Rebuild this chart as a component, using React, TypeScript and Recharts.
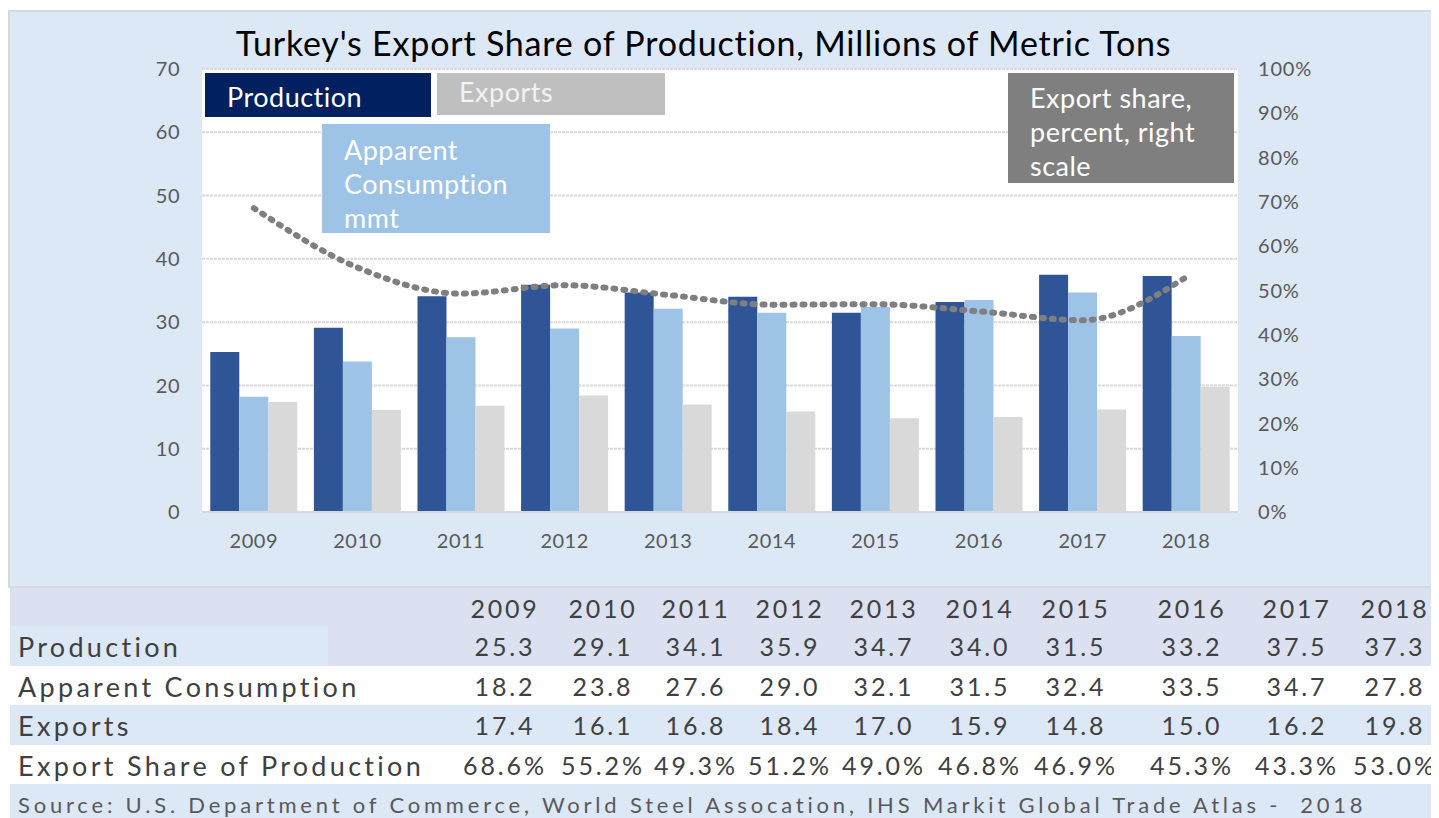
import React from "react";
import {
  ComposedChart,
  Bar,
  Line,
  XAxis,
  YAxis,
  CartesianGrid,
} from "recharts";

const years = ["2009", "2010", "2011", "2012", "2013", "2014", "2015", "2016", "2017", "2018"];
const production = [25.3, 29.1, 34.1, 35.9, 34.7, 34.0, 31.5, 33.2, 37.5, 37.3];
const consumption = [18.2, 23.8, 27.6, 29.0, 32.1, 31.5, 32.4, 33.5, 34.7, 27.8];
const exportsMmt = [17.4, 16.1, 16.8, 18.4, 17.0, 15.9, 14.8, 15.0, 16.2, 19.8];
const exportShare = [68.6, 55.2, 49.3, 51.2, 49.0, 46.8, 46.9, 45.3, 43.3, 53.0];

const leftTicks = [0, 10, 20, 30, 40, 50, 60, 70];
const rightTicks = [0, 0.1, 0.2, 0.3, 0.4, 0.5, 0.6, 0.7, 0.8, 0.9, 1];

const sourceNote =
  "Source: U.S. Department of Commerce, World Steel Assocation, IHS Markit Global Trade Atlas -  2018";

const FONT = "Lato, 'Open Sans', sans-serif";
const PANEL_BG = "#dce8f5";
const HEADER_BG = "#dbe1f1";

// table column centers (page x minus the 8px body margin)
const colCenters = [497, 595, 688, 782, 876, 972, 1068, 1184, 1289, 1387];

const chartData = years.map((y, i) => ({
  year: y,
  production: production[i],
  consumption: consumption[i],
  exports: exportsMmt[i],
  share: exportShare[i] / 100,
}));

const legendBox = (
  left: number,
  top: number,
  width: number,
  height: number,
  bg: string,
  lines: string[],
  padTop: number,
  color = "#fff"
) => (
  <div
    style={{
      position: "absolute",
      left,
      top,
      width,
      height,
      background: bg,
      color,
      fontFamily: FONT,
      fontSize: 27,
      letterSpacing: 0.5,
      lineHeight: "34px",
      paddingLeft: 22,
      paddingTop: padTop,
      boxSizing: "border-box",
      whiteSpace: "nowrap",
    }}
  >
    {lines.map((l) => (
      <div key={l}>{l}</div>
    ))}
  </div>
);

type Row = { label: string; values: string[]; labelBg: string; cellBg: string };

const rows: Row[] = [
  { label: "Production", values: production.map((v) => v.toFixed(1)), labelBg: PANEL_BG, cellBg: HEADER_BG },
  { label: "Apparent Consumption", values: consumption.map((v) => v.toFixed(1)), labelBg: "#fff", cellBg: "#fff" },
  { label: "Exports", values: exportsMmt.map((v) => v.toFixed(1)), labelBg: PANEL_BG, cellBg: PANEL_BG },
  { label: "Export Share of Production", values: exportShare.map((v) => v.toFixed(1) + "%"), labelBg: "#fff", cellBg: "#fff" },
];

export default function App() {
  return (
    <div style={{ position: "relative", width: 1431, height: 810, fontFamily: FONT }}>
      <div
        style={{
          position: "absolute",
          left: 0,
          top: 2,
          width: 1431,
          height: 578,
          background: PANEL_BG,
          border: "2px solid #d3d9df",
          borderRight: "none",
          boxSizing: "border-box",
        }}
      />
      <div style={{ position: "absolute", left: 0, top: 2 }}>
        <ComposedChart
          width={1431}
          height={576}
          data={chartData}
          margin={{ top: 59, right: 121, bottom: 34, left: 144 }}
          barCategoryGap="8%"
          barGap={0}
        >
          <CartesianGrid
            vertical={false}
            fill="#ffffff"
            stroke="#d9d9d9"
            strokeWidth={2}
            strokeDasharray="3 1"
            yAxisId="left"
          />
          <XAxis
            dataKey="year"
            axisLine={{ stroke: "#d9d9d9", strokeWidth: 2 }}
            tickLine={false}
            tickMargin={16}
            height={40}
            tick={{ fill: "#595959", fontSize: 20, letterSpacing: 0.5, fontFamily: FONT }}
          />
          <YAxis
            yAxisId="left"
            domain={[0, 70]}
            ticks={leftTicks}
            width={50}
            axisLine={false}
            tickLine={false}
            tickMargin={16}
            tick={{ fill: "#595959", fontSize: 20, letterSpacing: 0.5, fontFamily: FONT }}
          />
          <YAxis
            yAxisId="right"
            orientation="right"
            domain={[0, 1]}
            ticks={rightTicks}
            width={80}
            axisLine={false}
            tickLine={false}
            tickMargin={14}
            tickFormatter={(v: number) => `${Math.round(v * 100)}%`}
            tick={{ fill: "#595959", fontSize: 20, letterSpacing: 0.8, fontFamily: FONT }}
          />
          <Bar yAxisId="left" dataKey="production" fill="#2f5597" isAnimationActive={false} />
          <Bar yAxisId="left" dataKey="consumption" fill="#9dc3e6" isAnimationActive={false} />
          <Bar yAxisId="left" dataKey="exports" fill="#d9d9d9" isAnimationActive={false} />
          <Line
            yAxisId="right"
            dataKey="share"
            type="monotone"
            stroke="#7f7f7f"
            strokeWidth={6}
            strokeDasharray="2 8"
            strokeLinecap="round"
            dot={false}
            isAnimationActive={false}
          />
        </ComposedChart>
      </div>

      <div
        style={{
          position: "absolute",
          left: 0,
          width: 1431,
          top: 14,
          textAlign: "center",
          fontSize: 34,
          letterSpacing: 0.8,
          color: "#000",
          whiteSpace: "nowrap",
        }}
      >
        <span style={{ position: "relative", left: -20 }}>
          Turkey's Export Share of Production, Millions of Metric Tons
        </span>
      </div>

      {legendBox(197, 65, 226, 44, "#002060", ["Production"], 7)}
      {legendBox(429, 65, 228, 42, "#bfbfbf", ["Exports"], 2, "#f2f2f2")}
      {legendBox(314, 116, 228, 109, "#9dc3e6", ["Apparent", "Consumption", "mmt"], 9)}
      {legendBox(1000, 65, 226, 110, "#7f7f7f", ["Export share,", "percent, right", "scale"], 8)}

      {/* data table */}
      <div style={{ position: "absolute", left: 2, top: 580, width: 1429, height: 38, background: HEADER_BG }}>
        {years.map((y, i) => (
          <div
            key={y}
            style={{
              position: "absolute",
              left: colCenters[i] - 2 - 50,
              width: 100,
              textAlign: "center",
              top: 5,
              fontSize: 25,
              letterSpacing: 2.7,
              color: "#404040",
            }}
          >
            {y}
          </div>
        ))}
      </div>
      {rows.map((r, ri) => (
        <div
          key={r.label}
          style={{ position: "absolute", left: 2, top: 618 + ri * 39.5, width: 1429, height: 40, background: r.cellBg }}
        >
          <div style={{ position: "absolute", left: 0, top: 0, width: 318, height: 40, background: r.labelBg }} />
          <div
            style={{
              position: "absolute",
              left: 8,
              top: 4,
              fontSize: 27,
              letterSpacing: 3.3,
              color: "#404040",
              whiteSpace: "nowrap",
            }}
          >
            {r.label}
          </div>
          {r.values.map((v, i) => (
            <div
              key={i}
              style={{
                position: "absolute",
                left: colCenters[i] - 2 - 55,
                width: 110,
                textAlign: "center",
                top: 5,
                fontSize: 25,
                letterSpacing: 2.9,
                color: "#404040",
                whiteSpace: "nowrap",
              }}
            >
              {v}
            </div>
          ))}
        </div>
      ))}
      <div
        style={{
          position: "absolute",
          left: 2,
          top: 776,
          width: 1429,
          height: 34,
          background: PANEL_BG,
        }}
      >
        <div
          style={{
            position: "absolute",
            left: 8,
            top: 7,
            fontSize: 22,
            letterSpacing: 3.8,
            color: "#595959",
            whiteSpace: "pre",
          }}
        >
          {sourceNote}
        </div>
      </div>
    </div>
  );
}
